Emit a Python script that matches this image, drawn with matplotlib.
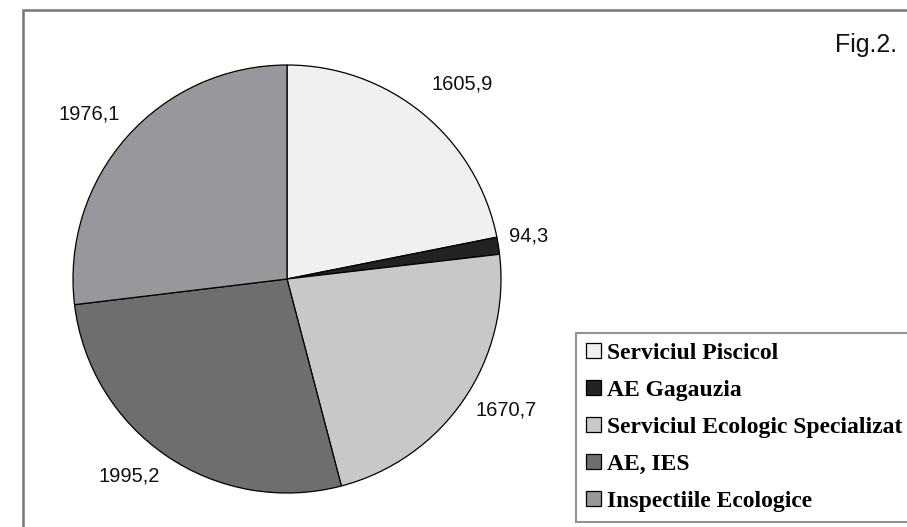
import matplotlib
matplotlib.use("Agg")
import matplotlib.pyplot as plt
from matplotlib.patches import Rectangle
import numpy as np

# Funding by institution
categories = ["Serviciul Piscicol", "AE Gagauzia", "Serviciul Ecologic Specializat",
              "AE, IES", "Inspectiile Ecologice"]
values = [1605.9, 94.3, 1670.7, 1995.2, 1976.1]
value_labels = ["1605,9", "94,3", "1670,7", "1995,2", "1976,1"]

colors = ["#f0f0f0", "#222222", "#c8c8c8", "#6e6e70", "#97989b"]
# label centres (pixel coordinates, origin bottom-left)
label_xy = [(462, 443.5), (529, 291.5), (506, 117.5), (129, 51.5), (89, 413.5)]

W, H = 907, 527
fig = plt.figure(figsize=(W / 100, H / 100), dpi=100)
ax = fig.add_axes([0, 0, 1, 1])

# outer frame (runs past the right and bottom edges)
ax.add_patch(Rectangle((23, -20), W, H - 10 + 20, fill=False,
                       edgecolor="#777777", linewidth=1.8, zorder=0))

wedges, _ = ax.pie(values, colors=colors, startangle=90, counterclock=False,
                   center=(287, 248), radius=214, frame=True,
                   wedgeprops=dict(edgecolor="black", linewidth=0.9))
ax.set_xlim(0, W)
ax.set_ylim(0, H)
ax.set_aspect("equal")
ax.axis("off")

for (x, y), t in zip(label_xy, value_labels):
    ax.text(x, y, t, ha="center", va="center", fontsize=14.5,
            family="Liberation Sans", color="#111111")

ax.text(866, 482, "Fig.2.", ha="center", va="center", fontsize=18,
        family="Liberation Sans", color="#111111")

leg = ax.legend(wedges, categories, loc="upper left",
                bbox_to_anchor=(576 / W, (H - 333) / H),
                prop=dict(family="Liberation Serif", weight="bold", size=17),
                frameon=True, fancybox=False, edgecolor="#777777",
                handlelength=0.62, handleheight=0.62, handletextpad=0.28,
                labelspacing=0.68, borderpad=0.42, borderaxespad=0)
leg.get_frame().set_linewidth(1.5)
for h in leg.legend_handles:
    h.set_edgecolor("black")
    h.set_linewidth(0.9)

fig.savefig("out.png", dpi=100)
